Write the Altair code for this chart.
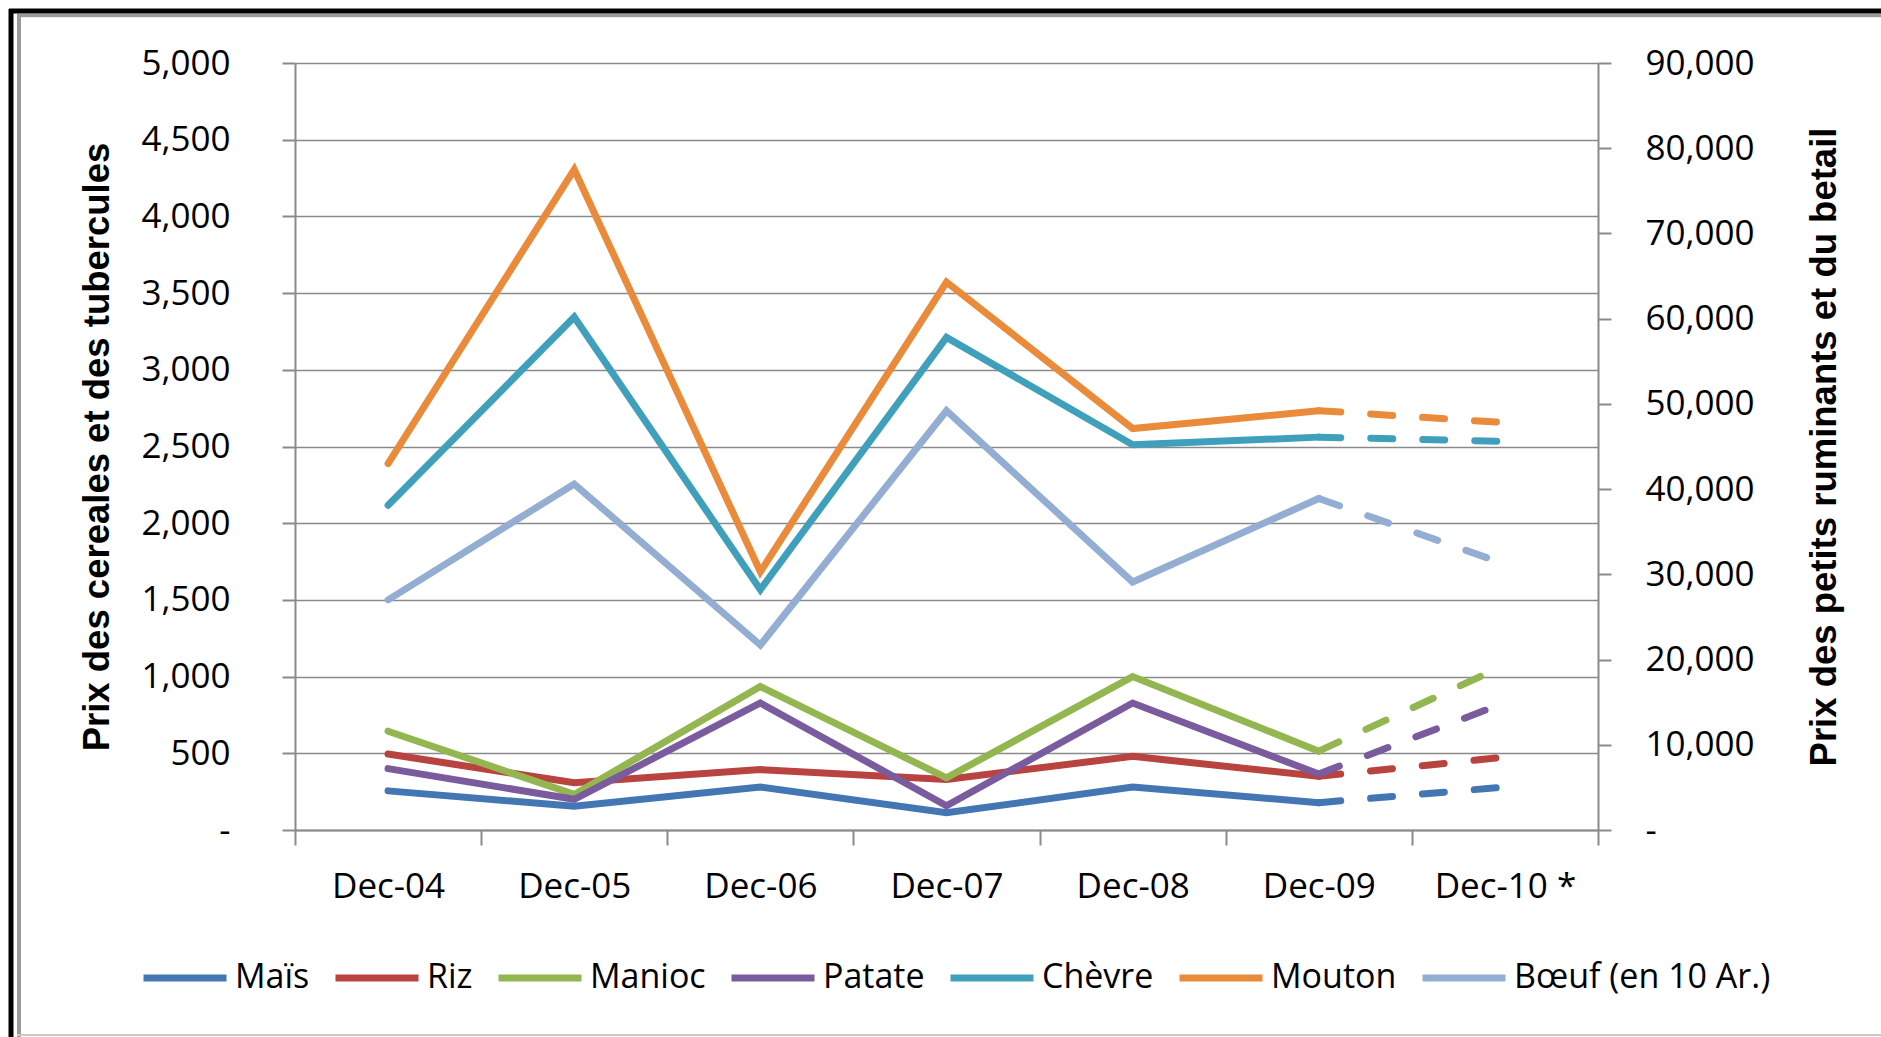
import json
import altair as alt
import pandas as pd

# ---------------- data ----------------
periods = ["Dec-04", "Dec-05", "Dec-06", "Dec-07", "Dec-08", "Dec-09", "Dec-10 *"]

mais = [255, 155, 280, 112, 280, 178, 280]
riz = [495, 308, 394, 330, 480, 350, 475]
manioc = [644, 232, 935, 340, 1000, 514, 1075]
patate = [400, 200, 828, 158, 828, 365, 830]

chevre = [38100, 60200, 28200, 57800, 45200, 46100, 45600]
mouton = [43000, 77500, 30300, 64300, 47100, 49200, 47800]
boeuf = [27000, 40600, 21700, 49200, 29100, 38900, 31200]

cereal_names = ["Maïs", "Riz", "Manioc", "Patate"]
cereal_values = [mais, riz, manioc, patate]
livestock_names = ["Chèvre", "Mouton", "Bœuf (en 10 Ar.)"]
livestock_values = [chevre, mouton, boeuf]

series_names = cereal_names + livestock_names
series_colors = ["#4376B3", "#B8433F", "#93B650", "#7A5C9E", "#40A0BB", "#E98B3A", "#93ADD3"]

left_ticks = list(range(0, 5001, 500))
right_ticks = list(range(0, 90001, 10000))


def long_table(names, values):
    rows = []
    for name, vals in zip(names, values):
        for i, v in enumerate(vals):
            rows.append({"series": name, "idx": i, "value": v})
    return pd.DataFrame(rows)


df_left = long_table(cereal_names, cereal_values)
df_right = long_table(livestock_names, livestock_values)

# ---------------- geometry / style ----------------
W, H = 1303, 767
n = len(periods)
half_step = W / n / 2
GRAY = "#8a8a8a"

x_label_expr = (
    "datum.value < " + str(n - 1) + " ? " + json.dumps(periods)
    + "[round(datum.value + 0.5)] : ''"
)

x_enc = alt.X(
    "idx:Q",
    scale=alt.Scale(domain=[-0.5, n - 0.5], nice=False, zero=False),
    axis=alt.Axis(
        values=[i - 0.5 for i in range(n + 1)],
        labelExpr=x_label_expr,
        labelOffset=half_step,
        labelAlign="center",
        labelBaseline="alphabetic",
        labelPadding=52.7,
        labelOverlap=False,
        labelFlush=False,
        tickSize=15,
        grid=False,
        title=None,
    ),
)

color_enc = alt.Color(
    "series:N",
    scale=alt.Scale(domain=series_names, range=series_colors),
    legend=alt.Legend(
        orient="none",
        legendX=-155,
        legendY=870,
        direction="horizontal",
        columns=len(series_names),
        symbolType="stroke",
        symbolSize=6889,
        symbolStrokeWidth=7,
        labelFont="Open Sans",
        labelFontSize=34,
        labelColor="#000000",
        labelOffset=5,
        labelLimit=600,
        columnPadding=11,
        padding=0,
        title=None,
    ),
)

y_left = alt.Y(
    "value:Q",
    scale=alt.Scale(domain=[0, 5000], nice=False),
    axis=alt.Axis(
        orient="left",
        values=left_ticks,
        labelExpr="datum.value == 0 ? '-\u00a0\u00a0' : format(datum.value, ',')",
        tickSize=13,
        labelPadding=52,
        grid=True,
        title="Prix des cereales et des tubercules",
        titleAngle=270,
        titleX=-187,
        titleY=H / 2,
        titleAlign="center",
        titleBaseline="alphabetic",
    ),
)

y_right = alt.Y(
    "value:Q",
    scale=alt.Scale(domain=[0, 90000], nice=False),
    axis=alt.Axis(
        orient="right",
        values=right_ticks,
        labelExpr="datum.value == 0 ? '-' : format(datum.value, ',')",
        tickSize=13,
        labelPadding=34,
        labelAlign="left",
        grid=False,
        title="Prix des petits ruminants et du betail",
        titleAngle=270,
        titleX=237,
        titleY=H / 2,
        titleAlign="center",
        titleBaseline="alphabetic",
    ),
)

line_style = dict(strokeWidth=7, strokeCap="round", strokeJoin="miter")
dash = [22, 30]


def series_layer(df, y_enc):
    base = alt.Chart(df).encode(x=x_enc, y=y_enc, color=color_enc)
    solid = base.mark_line(**line_style).transform_filter(f"datum.idx <= {n - 2}")
    dashed = base.mark_line(strokeDash=dash, **line_style).transform_filter(
        f"datum.idx >= {n - 2}"
    )
    return alt.layer(solid, dashed)


left_layer = series_layer(df_left, y_left)
right_layer = series_layer(df_right, y_right)

# ---------------- decorative frame (outside the plot) ----------------
frame_data = alt.InlineData(values=[{}])


def hrule(y, x0, x1, color, width):
    return alt.Chart(frame_data).mark_rule(color=color, strokeWidth=width, clip=False).encode(
        x=alt.value(x0), x2=alt.value(x1), y=alt.value(y)
    )


def vrule(x, y0, y1, color, width):
    return alt.Chart(frame_data).mark_rule(color=color, strokeWidth=width, clip=False).encode(
        x=alt.value(x), y=alt.value(y0), y2=alt.value(y1)
    )


frames = [
    hrule(-47.5, -278, 1600, "#9a9a9a", 3.5),
    vrule(-276, -49, 980, "#9a9a9a", 4),
    hrule(972, -278, 1600, "#c8c8c8", 2),
    hrule(-52, -286, 1600, "#000000", 5),
    vrule(-284, -54, 980, "#000000", 5),
]

chart = (
    alt.layer(left_layer, right_layer, *frames)
    .resolve_scale(y="independent")
    .properties(
        width=W,
        height=H,
        autosize=alt.AutoSizeParams(type="none"),
        padding={"left": 295, "top": 63, "right": 283, "bottom": 207},
        background="white",
    )
    .configure_view(strokeWidth=0)
    .configure_axis(
        labelFont="Open Sans",
        labelFontSize=35,
        labelColor="#000000",
        domainColor=GRAY,
        domainWidth=2,
        tickColor=GRAY,
        tickWidth=2,
        gridColor=GRAY,
        gridWidth=1.6,
        titleFont="Liberation Sans",
        titleFontWeight="bold",
        titleFontSize=36.5,
        titleColor="#000000",
    )
)

chart.save("out.html", embed_options={"renderer": "svg", "actions": False})
